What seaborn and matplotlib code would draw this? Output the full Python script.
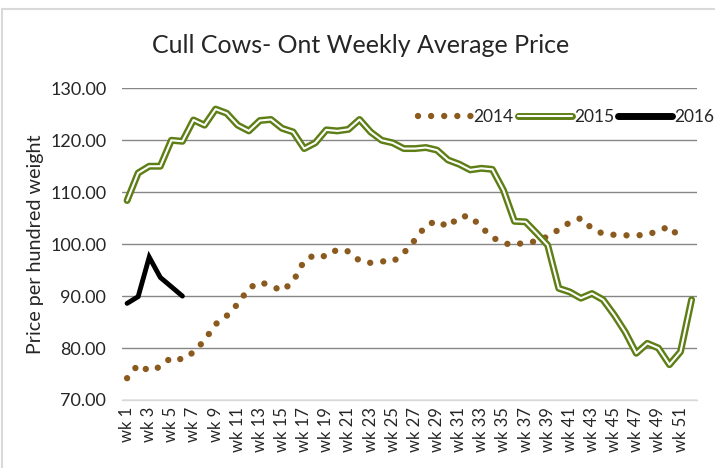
import numpy as np
import pandas as pd
import matplotlib
matplotlib.use("Agg")
import matplotlib.pyplot as plt
import matplotlib.patheffects as pe
import seaborn as sns
from matplotlib.lines import Line2D

# dati
weeks = list(range(1, 53))
week_labels = [f"wk {w}" for w in weeks]

price_2014 = [74.2, 76.8, 75.6, 76.4, 78.2, 77.8, 79.2, 81.5, 84.6, 86.2,
              88.5, 91.5, 92.7, 92.0, 91.0, 92.8, 96.8, 98.0, 97.6, 99.0,
              98.6, 96.8, 96.4, 96.7, 96.6, 98.3, 100.8, 103.6, 104.5, 103.3,
              105.3, 105.4, 103.3, 101.3, 100.2, 99.8, 100.4, 100.5, 101.5, 102.8,
              104.2, 105.0, 103.0, 102.0, 101.8, 101.7, 101.7, 101.8, 102.6, 103.4,
              101.1, np.nan]
price_2015 = [108.4, 113.7, 115.0, 115.0, 120.0, 119.8, 123.9, 122.9, 126.0, 125.2,
              122.9, 121.8, 123.8, 124.0, 122.3, 121.6, 118.4, 119.5, 122.0, 121.8,
              122.1, 124.0, 121.6, 120.0, 119.5, 118.4, 118.4, 118.6, 118.1, 116.2,
              115.4, 114.3, 114.6, 114.4, 110.4, 104.4, 104.3, 102.1, 99.8, 91.5,
              90.8, 89.6, 90.5, 89.3, 86.4, 83.1, 79.0, 80.9, 80.0, 76.8,
              79.3, 89.3]
price_2016 = [88.6, 89.9, 97.5, 93.6, 91.8, 90.0] + [np.nan] * 46

df = pd.DataFrame({"wk": weeks, "2014": price_2014, "2015": price_2015, "2016": price_2016})

c14 = "#8B5A1E"
c15 = "#5E7E16"
c16 = "#000000"

sns.set_theme(style="white")
plt.rcParams["font.family"] = ["Lato", "DejaVu Sans"]

fig = plt.figure(figsize=(7.15, 4.68), dpi=100)
ax = fig.add_axes([0.170, 0.1453, 0.805, 0.666])

dots = dict(color=c14, linewidth=4.6, linestyle=(0, (0.001, 2.05)), dash_capstyle="round")
double = dict(color="white", linewidth=1.5,
              path_effects=[pe.Stroke(linewidth=5.0, foreground=c15), pe.Normal()])

# 2014: linea a punti
sns.lineplot(data=df, x="wk", y="2014", ax=ax, **dots)
# 2015: linea doppia (verde con bianco all'interno)
sns.lineplot(data=df, x="wk", y="2015", ax=ax, **double)
# 2016
sns.lineplot(data=df, x="wk", y="2016", ax=ax, color=c16, linewidth=3.5,
             solid_capstyle="round", solid_joinstyle="miter")

ax.set_xlim(0.5, 52.5)
ax.set_ylim(70, 130)
ax.set_yticks(np.arange(70, 131, 10))
ax.set_yticklabels([f"{v:.2f}" for v in np.arange(70, 131, 10)], fontsize=13)
ax.set_xticks(weeks[::2])
ax.set_xticklabels(week_labels[::2], rotation=90, fontsize=12)
ax.tick_params(axis="y", length=0, pad=11)
ax.tick_params(axis="x", length=0, pad=5)

ax.grid(axis="y", color="#868686", linewidth=1.0)
ax.grid(axis="x", visible=False)
for s in ["left", "right", "top"]:
    ax.spines[s].set_visible(False)
ax.spines["bottom"].set_color("#d9d9d9")
ax.spines["bottom"].set_linewidth(1.0)

ax.set_xlabel("")
ax.set_ylabel("Price per hundred weight", fontsize=14.2, labelpad=4)

fig.suptitle("Cull Cows- Ont Weekly Average Price", x=0.504, y=0.927, fontsize=18)

# legenda
h14 = Line2D([], [], **dots)
h15 = Line2D([], [], solid_capstyle="round", **double)
h16 = Line2D([], [], color=c16, linewidth=5, solid_capstyle="round")
fig.legend([h14, h15, h16], ["2014", "2015", "2016"],
           loc="center right", bbox_to_anchor=(0.999, 0.75), ncol=3, frameon=False,
           fontsize=12.5, handlelength=3.1, columnspacing=0.25, handletextpad=0.12,
           borderpad=0, borderaxespad=0)

# bordo del grafico
fig.patches.append(plt.Rectangle((0.003, -0.01), 1.2, 0.99, transform=fig.transFigure,
                                 fill=False, edgecolor="#d9d9d9", linewidth=1.5))

fig.savefig("out.png", dpi=100)
